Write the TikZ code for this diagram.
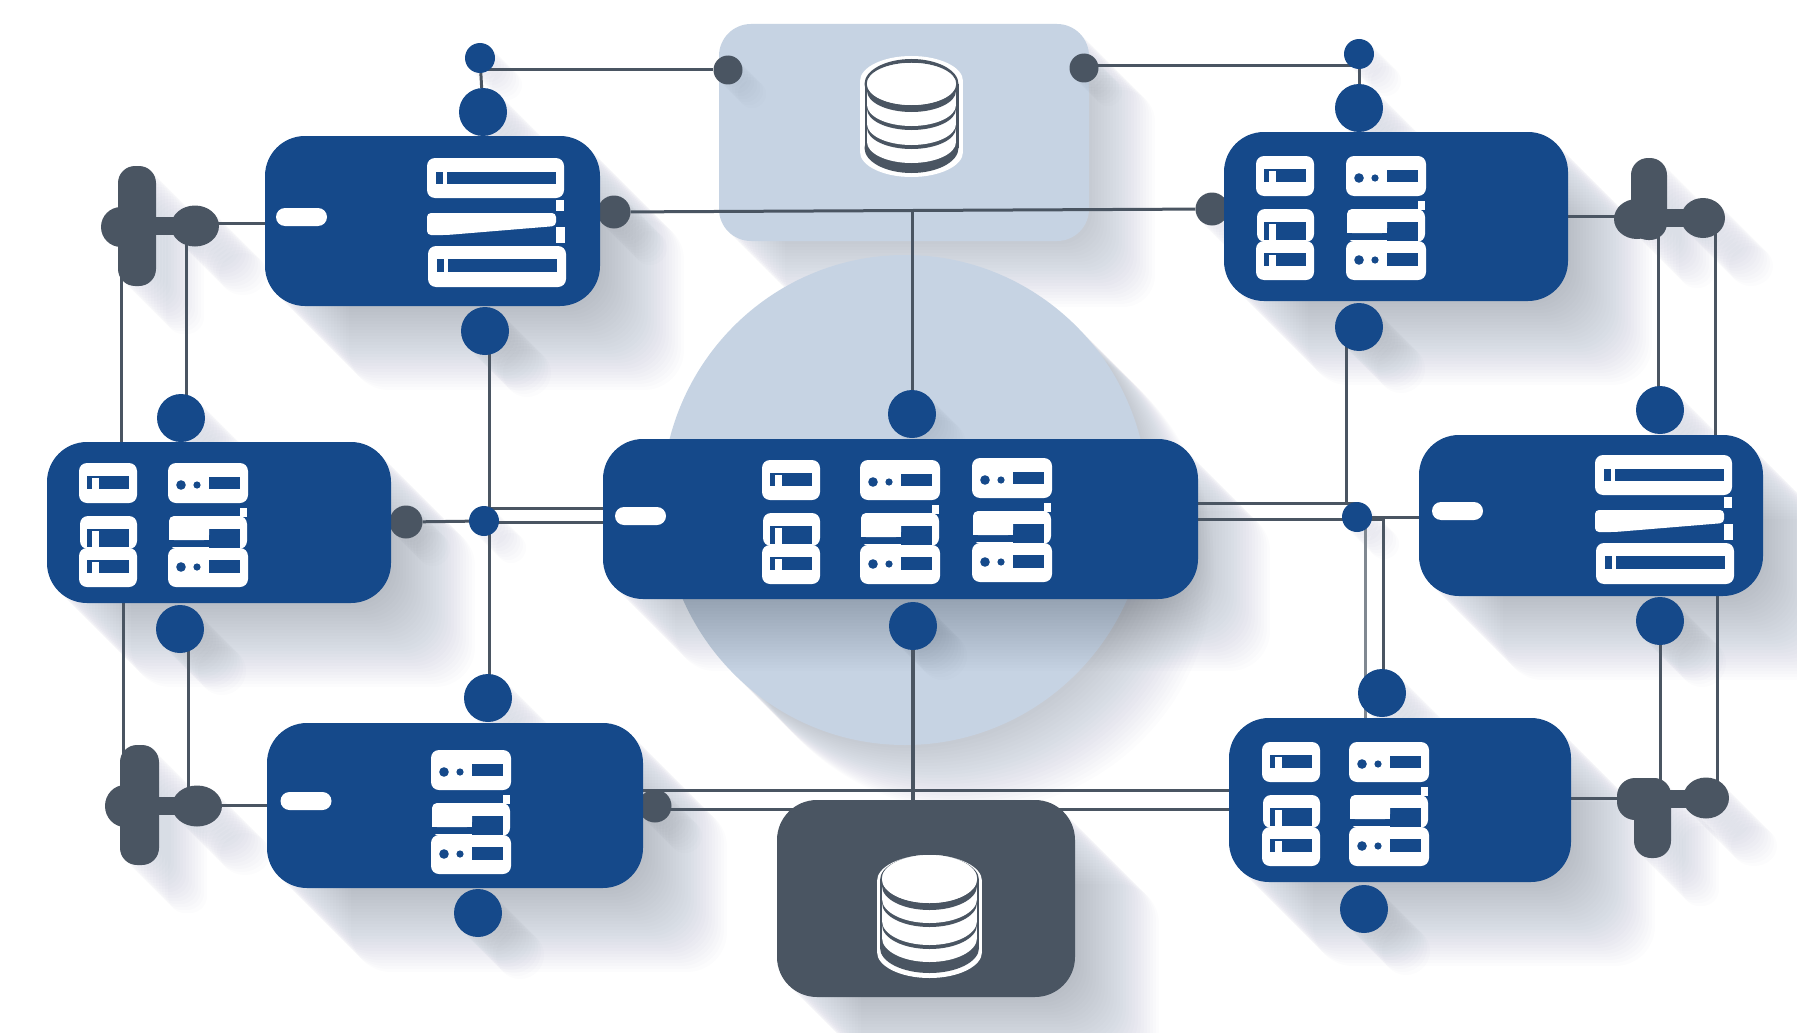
\documentclass[tikz,border=0pt]{standalone}
\usetikzlibrary{shapes.geometric}
\definecolor{nblue}{HTML}{15498A}
\definecolor{nslate}{HTML}{4A5562}
\definecolor{nlight}{HTML}{C6D3E3}
\definecolor{nshadow}{HTML}{2F3E55}
\pgfdeclarelayer{bgshadow}\pgfdeclarelayer{bgshape}\pgfdeclarelayer{shadows}\pgfdeclarelayer{wires}
\pgfsetlayers{bgshadow,bgshape,shadows,wires,main}
\tikzset{
  x=1pt,y=-1pt,
  bluebox/.style={rectangle,fill=nblue,rounded corners=40pt,inner sep=0pt},
  lightbox/.style={rectangle,fill=nlight,rounded corners=32pt,inner sep=0pt},
  darkbox/.style={rectangle,fill=nslate,rounded corners=40pt,inner sep=0pt},
  disc/.style={circle,fill=nblue,inner sep=0pt,minimum size=48pt},
  smalldisc/.style={circle,fill=nblue,inner sep=0pt,minimum size=30pt},
  greydisc/.style={circle,fill=nslate,inner sep=0pt,minimum size=33pt},
  greyoval/.style={ellipse,fill=nslate,inner sep=0pt,minimum width=48pt,minimum height=41pt},
  greypill/.style={rectangle,fill=nslate,rounded corners=17pt,inner sep=0pt},
  whitepill/.style={rectangle,fill=white,rounded corners=9pt,inner sep=0pt,minimum width=51pt,minimum height=18pt},
  wire/.style={draw=nslate,line width=3pt},
  thickwire/.style={draw=nslate,line width=4.6pt},
  shd/.style={fill=nshadow,fill opacity=0.010,draw=none},
}
% long diagonal shadows
\newcommand\shr[6]{\foreach \i in {1,...,#6}{\fill[shd,rounded corners=#5pt,shift={(\i*3,\i*3)}] (#1,#2) rectangle (#3,#4);}}
\newcommand\she[5]{\foreach \i in {1,...,#5}{\fill[shd,shift={(\i*3,\i*3)}] (#1,#2) ellipse[x radius=#3,y radius=#4];}}
% server column without status lights
\newcommand\cola[2]{\begin{scope}[shift={(#1,#2)}]
  \fill[white,rounded corners=8pt] (0,0) rectangle (58,40);
  \fill[white,rounded corners=8pt] (1,53) rectangle (58,86);
  \fill[white,rounded corners=8pt] (0,85) rectangle (58,124);
  \fill[nblue] (8,13) rectangle (50,26);
  \fill[nblue] (8,66) rectangle (50,84);
  \fill[nblue] (8,97) rectangle (50,110);
  \fill[white] (13,15) rectangle (20,26);
  \fill[white] (13,68) rectangle (20,85);
  \fill[white] (13,99) rectangle (20,110);
\end{scope}}
% server column with two status lights
\newcommand\colb[2]{\begin{scope}[shift={(#1,#2)}]
  \fill[white,rounded corners=8pt] (0,0) rectangle (80,40);
  \fill[white,rounded corners=8pt] (1,53) rectangle (79,86);
  \fill[white,rounded corners=8pt] (0,85) rectangle (80,124);
  \fill[nblue] (41,14) rectangle (72,26);
  \fill[nblue] (13,22) circle[radius=4.8];
  \fill[nblue] (29,22) circle[radius=3.6];
  \fill[nblue] (41,66) rectangle (72,85);
  \fill[nblue] (0,77) rectangle (41,84);
  \fill[white,rounded corners=5pt] (1,53) rectangle (41,77);
  \fill[white] (72,45) rectangle (79,54);
  \fill[nblue] (41,97) rectangle (72,110);
  \fill[nblue] (13,104) circle[radius=4.8];
  \fill[nblue] (29,104) circle[radius=3.6];
\end{scope}}
% three long bars
\newcommand\barstack[2]{\begin{scope}[shift={(#1,#2)}]
  \fill[white,rounded corners=8pt] (0,0) rectangle (137,40);
  \fill[nblue] (9,14) rectangle (129,26);
  \fill[white] (16,14) rectangle (20,26);
  \fill[white] (129,42) rectangle (137,53);
  \fill[white,rounded corners=4pt] (0,55) -- (129,55) -- (129,68) -- (20,77) -- (0,77) -- cycle;
  \fill[white] (129,69) rectangle (138,85);
  \fill[white,rounded corners=8pt] (1,88) rectangle (139,129);
  \fill[nblue] (10,101) rectangle (130,114);
  \fill[white] (17,101) rectangle (21,114);
\end{scope}}
\newcommand\capsule[6]{\fill[#1] (#2,#3) ellipse[x radius=#5,y radius=#6];
  \fill[#1] (#2,#4) ellipse[x radius=#5,y radius=#6];
  \fill[#1] (#2-#5,#3) rectangle (#2+#5,#4);}
\begin{document}
\begin{tikzpicture}
\useasboundingbox (0,0) rectangle (1797,1033);
\begin{pgfonlayer}{bgshadow}
  \fill[white] (0,0) rectangle (1797,1033);
  \shr{719}{24}{1089}{241}{32}{22}
  \she{905}{500}{243}{245}{22}
\end{pgfonlayer}
\begin{pgfonlayer}{bgshape}
  \node[lightbox,minimum width=370pt,minimum height=217pt] (dbtop) at (904,132.5) {};
  \node[ellipse,fill=nlight,inner sep=0pt,minimum width=486pt,minimum height=490pt] (hub) at (905,500) {};
\end{pgfonlayer}
\begin{pgfonlayer}{shadows}
  \shr{265}{136}{600}{306}{40}{28}
  \shr{1224}{132}{1568}{301}{40}{28}
  \shr{47}{442}{391}{603}{40}{28}
  \shr{603}{439}{1198}{599}{40}{24}
  \shr{1419}{435}{1763}{596}{40}{28}
  \shr{267}{723}{643}{888}{40}{28}
  \shr{1229}{718}{1571}{882}{40}{28}
  \shr{777}{800}{1075}{997}{40}{28}
  % discs
  \she{480}{58}{15}{15}{9}\she{483}{112}{24}{24}{14}\she{485}{331}{24}{24}{14}
  \she{1359}{54}{15}{15}{9}\she{1359}{108}{24}{24}{14}\she{1359}{327}{24}{24}{14}
  \she{181}{418}{24}{24}{14}\she{180}{629}{24}{24}{14}
  \she{912}{414}{24}{24}{10}\she{913}{626}{24}{24}{10}
  \she{1660}{410}{24}{24}{14}\she{1660}{621}{24}{24}{14}
  \she{488}{698}{24}{24}{14}\she{478}{913}{24}{24}{14}
  \she{1382}{693}{24}{24}{14}\she{1364}{909}{24}{24}{14}
  \she{484}{521}{15}{15}{9}\she{1357}{517}{15}{15}{9}
  \she{406}{522}{17}{17}{9}\she{614}{212}{17}{17}{12}\she{1212}{209}{17}{17}{9}\she{655}{806}{17}{17}{10}
  \she{728}{70}{14}{14}{8}\she{1084}{68}{14}{14}{8}
  % terminals
  \shr{118}{166}{156}{286}{17}{16}\she{195}{226}{24}{21}{16}
  \shr{120}{745}{159}{865}{17}{16}\she{197}{806}{25}{21}{16}
  \shr{1631}{158}{1667}{240}{17}{16}\she{1703}{218}{22}{20}{16}
  \shr{1634}{778}{1671}{858}{17}{16}\she{1706}{798}{23}{20}{16}
\end{pgfonlayer}

% grey attachment discs sit behind the blue boxes
\node[greydisc] (ga) at (614,212) {};
\node[greydisc] (gb) at (1212,209) {};
\node[greydisc] (gc) at (406,522) {};
\node[greydisc] (gf) at (655,806) {};
\node[greydisc,minimum size=29pt] (gl) at (728,70) {};
\node[greydisc,minimum size=29pt] (gr) at (1084,68) {};

% terminals
\node[greypill,minimum width=38pt,minimum height=120pt] (t1p) at (137,226) {};
\node[ellipse,fill=nslate,inner sep=0pt,minimum width=40pt,minimum height=40pt] (t1l) at (121,227) {};
\node[greyoval] (t1r) at (195,226) {};
\node[rectangle,fill=nslate,inner sep=0pt,minimum width=30pt,minimum height=18pt] (t1b) at (165,226) {};
\node[greypill,minimum width=39pt,minimum height=120pt] (t2p) at (139.5,805) {};
\node[ellipse,fill=nslate,inner sep=0pt,minimum width=40pt,minimum height=42pt] (t2l) at (125,806) {};
\node[greyoval,minimum width=50pt] (t2r) at (197,806) {};
\node[rectangle,fill=nslate,inner sep=0pt,minimum width=30pt,minimum height=18pt] (t2b) at (168,806) {};
\node[greypill,minimum width=36pt,minimum height=82pt] (t3p) at (1649,199) {};
\node[ellipse,fill=nslate,inner sep=0pt,minimum width=46pt,minimum height=40pt] (t3l) at (1637,219) {};
\node[greyoval,minimum width=44pt,minimum height=40pt] (t3r) at (1703,218) {};
\node[rectangle,fill=nslate,inner sep=0pt,minimum width=30pt,minimum height=18pt] (t3b) at (1678,218) {};
\node[greypill,minimum width=37pt,minimum height=80pt] (t4p) at (1652.5,818) {};
\node[rectangle,fill=nslate,rounded corners=18pt,inner sep=0pt,minimum width=53pt,minimum height=42pt] (t4l) at (1643.5,799) {};
\node[greyoval,minimum width=46pt,minimum height=41pt] (t4r) at (1706,798) {};
\node[rectangle,fill=nslate,inner sep=0pt,minimum width=30pt,minimum height=18pt] (t4b) at (1677,798.5) {};

% discs
\node[smalldisc] (sa) at (480,58) {};
\node[smalldisc] (sb) at (1359,54) {};
\node[disc] (da1) at (483,112) {};
\node[disc] (da2) at (485,331) {};
\node[disc] (db1) at (1359,108) {};
\node[disc] (db2) at (1359,327) {};
\node[disc] (dc1) at (181,418) {};
\node[disc] (dc2) at (180,629) {};
\node[disc] (dd1) at (912,414) {};
\node[disc] (dd2) at (913,626) {};
\node[disc] (de1) at (1660,410) {};
\node[disc] (de2) at (1660,621) {};
\node[disc] (df1) at (488,698) {};
\node[disc] (df2) at (478,913) {};
\node[disc] (dg1) at (1382,693) {};
\node[disc] (dg2) at (1364,909) {};
\node[smalldisc] (jl) at (484,521) {};
\node[smalldisc] (jr) at (1357,517) {};

% boxes
\node[bluebox,minimum width=335pt,minimum height=170pt] (na) at (432.5,221) {};
\node[bluebox,minimum width=344pt,minimum height=169pt] (nb) at (1396,216.5) {};
\node[bluebox,minimum width=344pt,minimum height=161pt] (nc) at (219,522.5) {};
\node[bluebox,minimum width=595pt,minimum height=160pt] (nd) at (900.5,519) {};
\node[bluebox,minimum width=344pt,minimum height=161pt] (ne) at (1591,515.5) {};
\node[bluebox,minimum width=376pt,minimum height=165pt] (nf) at (455,805.5) {};
\node[bluebox,minimum width=342pt,minimum height=164pt] (ng) at (1400,800) {};
\node[darkbox,minimum width=298pt,minimum height=197pt] (dbbot) at (926,898.5) {};

% pills
\node[whitepill] (pa) at (301.5,217) {};
\node[whitepill] (pd) at (640.5,516) {};
\node[whitepill] (pe) at (1457.5,511) {};
\node[whitepill] (pf) at (306,801) {};

% server icons
\barstack{427}{158}
\barstack{1595}{455}
\cola{1256}{156}\colb{1346}{156}
\cola{79}{463}\colb{168}{463}
\cola{762}{460}\colb{860}{460}\colb{972}{458}
\colb{431}{750}
\cola{1262}{742}\colb{1349}{742}

% database icon, light box
\capsule{white}{911.5}{81}{152}{51.5}{25}
\capsule{nslate}{911.5}{84}{148}{47}{25}
\capsule{white}{911.5}{84}{142}{44.5}{21}
\capsule{nslate}{911.5}{84}{128}{44.5}{21}
\capsule{white}{911.5}{84}{124}{44.5}{21}
\capsule{nslate}{911.5}{84}{109}{44.5}{21}
\capsule{white}{911.5}{84}{105}{44.5}{21}
\capsule{nslate}{911.5}{84}{91}{44.5}{21}
\capsule{white}{911.5}{84}{84}{44.5}{21}

% database icon, dark box
\capsule{white}{929.5}{881}{952}{52.5}{26}
\capsule{nslate}{929.5}{880}{948}{49.5}{25}
\capsule{white}{929.5}{879}{938}{47.5}{24}
\capsule{nslate}{929.5}{879}{925}{47.5}{24}
\capsule{white}{929.5}{879}{921}{47.5}{24}
\capsule{nslate}{929.5}{879}{903}{47.5}{24}
\capsule{white}{929.5}{879}{899}{47.5}{24}
\capsule{nslate}{929.5}{879}{886}{47.5}{24}
\capsule{white}{929.5}{879}{879}{47.5}{24}

% free ends of connectors
\coordinate (q0) at (1084,66);
\coordinate (q1) at (486,70);
\coordinate (q2) at (1354,66);
\coordinate (q3) at (912,210);
\coordinate (q8) at (489,331);
\coordinate (q9) at (489,698);
\coordinate (q10) at (913,805);
\coordinate (q4) at (121,250);
\coordinate (q5) at (121,460);
\coordinate (q6) at (186,230);
\coordinate (q7) at (186,410);
\coordinate (r1) at (1346,335);
\coordinate (r2) at (1346,504);
\coordinate (r3) at (484,508);
\coordinate (r4) at (620,508);
\coordinate (r5) at (1180,503);
\coordinate (r6) at (1357,503);
\coordinate (r7) at (1180,519);
\coordinate (r8) at (1383,519);
\coordinate (r9) at (1365,519);
\coordinate (r0) at (1357,519);
\coordinate (rr) at (1430,517);
\coordinate (rq) at (1357,517);
\coordinate (s1) at (1365,730);
\coordinate (s2) at (1383,519);
\coordinate (s3) at (1383,693);
\coordinate (s4) at (123,590);
\coordinate (s5) at (123,790);
\coordinate (s6) at (188,629);
\coordinate (s7) at (188,800);
\coordinate (s8) at (1658,225);
\coordinate (s9) at (1658,410);
\coordinate (u1) at (1715,225);
\coordinate (u2) at (1715,450);
\coordinate (u3) at (1660,621);
\coordinate (u4) at (1660,790);
\coordinate (u5) at (1717,590);
\coordinate (u6) at (1717,790);
\coordinate (u7) at (630,790);
\coordinate (u8) at (1240,790);
\coordinate (u9) at (655,809);
\coordinate (v1) at (1240,809);
\coordinate (v2) at (215,223);
\coordinate (v3) at (280,223);
\coordinate (v4) at (215,805);
\coordinate (v5) at (280,805);
\coordinate (v6) at (1555,216);
\coordinate (v7) at (1625,216);
\coordinate (v8) at (1555,798);
\coordinate (v9) at (1625,798);
\coordinate (w1) at (484,522);
\coordinate (w2) at (620,522);

\begin{pgfonlayer}{wires}
  \draw[wire] (sa) -- (da1);
  \draw[wire] (sb) -- (db1);
  \draw[wire] (q1) -- (gl);
  \draw[wire] (q2) -- (q0);
  \draw[wire] (ga) -- (gb);
  \draw[wire] (q3) -- (dd1);
  \draw[thickwire] (dd2) -- (q10);
  \draw[wire] (q8) -- (q9);
  \draw[wire] (q4) -- (q5);
  \draw[wire] (q6) -- (q7);
  \draw[wire] (s4) -- (s5);
  \draw[wire] (s6) -- (s7);
  \draw[wire] (gc) -- (jl);
  \draw[wire] (r3) -- (r4);
  \draw[wire] (w1) -- (w2);
  \draw[wire] (r1) -- (r2);
  \draw[wire] (r5) -- (r6);
  \draw[wire] (r7) -- (r0);
  \draw[wire] (rq) -- (rr);
  \draw[wire,draw=nslate!70] (r9) -- (s1);
  \draw[wire] (s2) -- (s3);
  \draw[wire] (r9) -- (r8);
  \draw[wire] (s8) -- (s9);
  \draw[wire] (u1) -- (u2);
  \draw[wire] (u3) -- (u4);
  \draw[wire] (u5) -- (u6);
  \draw[wire] (u7) -- (u8);
  \draw[wire] (u9) -- (v1);
  \draw[wire] (v2) -- (v3);
  \draw[wire] (v4) -- (v5);
  \draw[wire] (v6) -- (v7);
  \draw[wire] (v8) -- (v9);
\end{pgfonlayer}
\end{tikzpicture}
\end{document}
